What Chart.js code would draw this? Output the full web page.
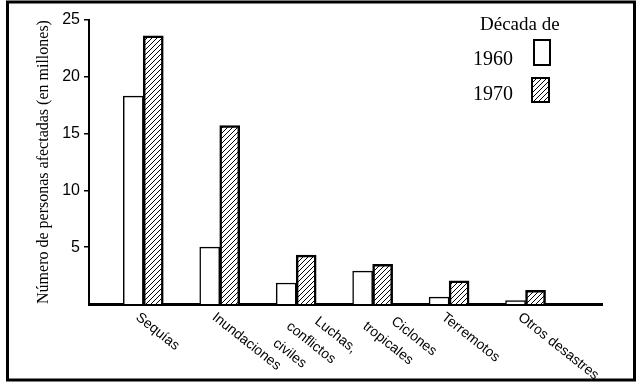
<!DOCTYPE html>
<html>
<head>
<meta charset="utf-8">
<script src="https://cdn.jsdelivr.net/npm/chart.js@4"></script>
<style>
  body { margin: 0; background: #fff; }
  canvas { display: block; }
</style>
</head>
<body>
<canvas id="chart" width="641" height="388"></canvas>
<script>
// Data
const categories = ["Sequías", "Inundaciones", ["Luchas,", "conflictos", "civiles"], ["Ciclones", "tropicales"], "Terremotos", "Otros desastres"];
const values1960 = [18.3, 5.0, 1.85, 2.9, 0.6, 0.3];
const values1970 = [23.6, 15.7, 4.3, 3.5, 2.05, 1.2];
const seriesLabels = ["1960", "1970"];
const yTicks = [5, 10, 15, 20, 25];
const legendTitle = "Década de";
const yTitle = "Número de personas afectadas (en millones)";

// Diagonal hatching for the 1970 bars
function makeHatch() {
    const c = document.createElement("canvas");
    c.width = 5; c.height = 5;
    const g = c.getContext("2d");
    g.fillStyle = "#fff";
    g.fillRect(0, 0, 5, 5);
    g.strokeStyle = "#000";
    g.lineWidth = 1;
    g.beginPath();
    g.moveTo(0, 5); g.lineTo(5, 0);
    g.moveTo(-1, 1); g.lineTo(1, -1);
    g.moveTo(4, 6); g.lineTo(6, 4);
    g.stroke();
    return g.createPattern(c, "repeat");
}
const hatch = makeHatch();

// Rotated multi-line category labels under the baseline
const categoryLabels = {
    id: "categoryLabels",
    afterDraw(chart) {
        const ctx = chart.ctx;
        const x = chart.scales.x;
        const base = chart.chartArea.bottom;
        ctx.save();
        ctx.font = "14px 'Liberation Sans', Arial, sans-serif";
        ctx.fillStyle = "#000";
        ctx.textBaseline = "top";
        ctx.textAlign = "left";
        categories.forEach((label, i) => {
            const lines = Array.isArray(label) ? label : [label];
            ctx.save();
            ctx.translate(x.getPixelForValue(i), base + 1);
            ctx.rotate(38.5 * Math.PI / 180);
            lines.forEach((line, k) => {
                if (lines.length === 1) {
                    ctx.fillText(line, 2, 5);
                } else {
                    ctx.fillText(line, k === 0 ? 25 : 6, -8 + 21.5 * k);
                }
            });
            ctx.restore();
        });
        ctx.restore();
    }
};

// Legend box in the top right corner plus the outer frame
const legendAndFrame = {
    id: "legendAndFrame",
    afterDraw(chart) {
        const ctx = chart.ctx;
        ctx.save();
        ctx.fillStyle = "#000";
        ctx.textBaseline = "alphabetic";
        ctx.textAlign = "left";
        ctx.font = "19px 'Liberation Serif', 'Times New Roman', serif";
        ctx.fillText(legendTitle, 480, 30);
        ctx.font = "20px 'Liberation Serif', 'Times New Roman', serif";
        ctx.fillText(chart.data.datasets[0].label, 473, 65);
        ctx.fillText(chart.data.datasets[1].label, 473, 100);

        ctx.lineWidth = 2;
        ctx.strokeStyle = "#000";
        ctx.fillStyle = "#fff";
        ctx.fillRect(534, 40, 16, 25);
        ctx.strokeRect(534, 40, 16, 25);
        ctx.fillStyle = hatch;
        ctx.fillRect(532, 78, 17, 24);
        ctx.strokeRect(532, 78, 17, 24);

        ctx.lineWidth = 3;
        ctx.strokeRect(7.5, 2, 627, 378);
        ctx.restore();
    }
};

const ctx = document.getElementById("chart").getContext("2d");
new Chart(ctx, {
    type: "bar",
    data: {
        datasets: [
            {
                label: seriesLabels[0],
                data: values1960.map((v, i) => ({ x: i, y: v })),
                backgroundColor: "#fff",
                borderColor: "#000",
                borderWidth: 1.5
            },
            {
                label: seriesLabels[1],
                data: values1970.map((v, i) => ({ x: i, y: v })),
                backgroundColor: hatch,
                borderColor: "#000",
                borderWidth: 2.5
            }
        ]
    },
    options: {
        responsive: false,
        animation: false,
        devicePixelRatio: 1,
        barThickness: 20,
        layout: { padding: { left: 0, top: 20, right: 39, bottom: 0 } },
        plugins: { legend: { display: false }, tooltip: { enabled: false } },
        scales: {
            x: {
                type: "linear",
                offset: false,
                min: -0.71,
                max: 6.0,
                afterBuildTicks: s => { s.ticks = categories.map((_, i) => ({ value: i })); },
                afterFit: s => { s.height = 84; },
                ticks: { display: false },
                grid: { display: false },
                border: { display: true, color: "#000", width: 3 }
            },
            y: {
                min: 0,
                max: 25,
                afterBuildTicks: s => { s.ticks = yTicks.map(v => ({ value: v })); },
                afterFit: s => { s.width = 89; },
                ticks: {
                    color: "#000",
                    padding: 4,
                    font: { family: "'Liberation Sans', Arial, sans-serif", size: 16 }
                },
                grid: { drawOnChartArea: false, tickLength: 5, color: "#000", lineWidth: 1.5 },
                border: { display: true, color: "#000", width: 2 },
                title: {
                    display: true,
                    text: yTitle,
                    color: "#000",
                    padding: { top: 34, bottom: 0 },
                    font: { family: "'Liberation Serif', 'Times New Roman', serif", size: 16 }
                }
            }
        }
    },
    plugins: [categoryLabels, legendAndFrame]
});
</script>
</body>
</html>
